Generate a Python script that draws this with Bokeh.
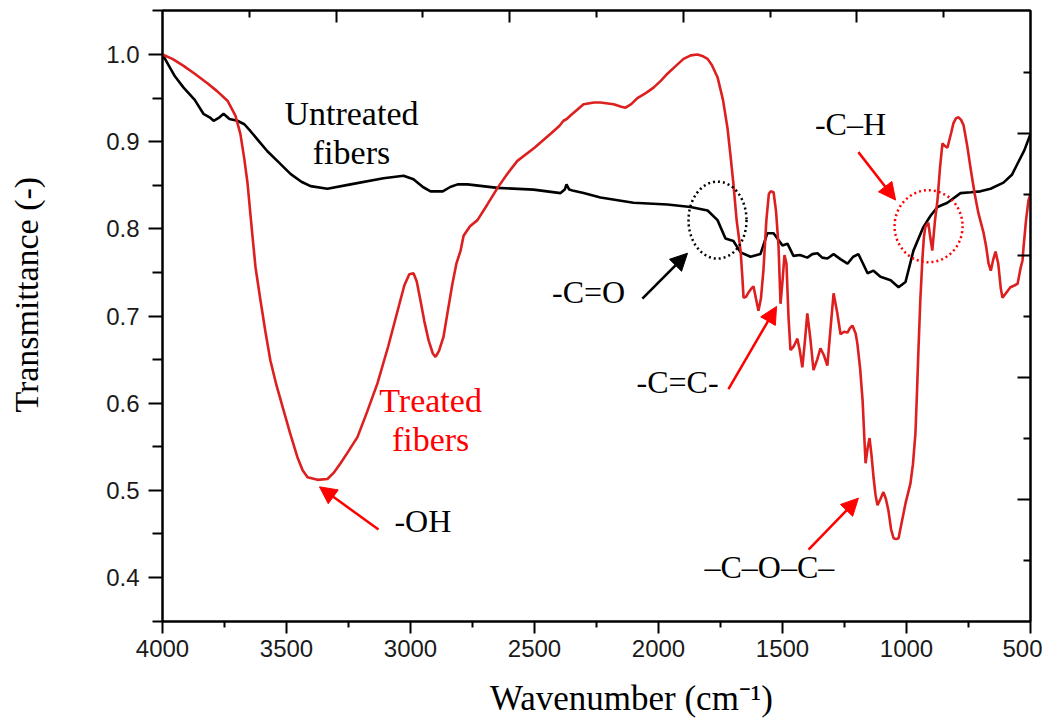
from bokeh.plotting import figure
from bokeh.models import (Range1d, LinearAxis, FixedTicker, Label, Arrow,
                          NormalHead, NumeralTickFormatter)
from bokeh.embed import file_html
from bokeh.resources import INLINE

# ---------------- data ----------------
untreated_wn = [4000, 3950, 3915, 3870, 3835, 3810, 3794, 3770, 3754, 3730, 3698, 3670,
                3645, 3610, 3577, 3530, 3484, 3440, 3403, 3335, 3242, 3109, 3028, 2988,
                2950, 2919, 2870, 2840, 2810, 2770, 2649, 2504, 2395, 2378, 2371, 2360,
                2347, 2302, 2234, 2101, 1964, 1871, 1802, 1762, 1730, 1698, 1669, 1629,
                1589, 1561, 1536, 1500, 1480, 1456, 1430, 1400, 1380, 1359, 1340, 1319,
                1294, 1265, 1238, 1215, 1194, 1175, 1157, 1133, 1105, 1064, 1032, 1004,
                972, 932, 903, 875, 835, 782, 740, 702, 661, 609, 575, 552, 525, 500]
untreated_t = [1.000, 0.975, 0.962, 0.948, 0.932, 0.928, 0.924, 0.928, 0.932, 0.926, 0.924, 0.920,
               0.912, 0.900, 0.889, 0.876, 0.863, 0.854, 0.849, 0.846, 0.851, 0.858, 0.861, 0.857,
               0.848, 0.843, 0.843, 0.848, 0.851, 0.851, 0.847, 0.845, 0.841, 0.845, 0.851, 0.845,
               0.844, 0.841, 0.836, 0.830, 0.828, 0.825, 0.821, 0.810, 0.789, 0.786, 0.773, 0.768,
               0.771, 0.795, 0.795, 0.781, 0.783, 0.769, 0.770, 0.767, 0.771, 0.772, 0.767, 0.766,
               0.771, 0.765, 0.760, 0.768, 0.771, 0.760, 0.749, 0.752, 0.745, 0.741, 0.733, 0.739,
               0.775, 0.802, 0.815, 0.825, 0.830, 0.841, 0.842, 0.843, 0.846, 0.853, 0.862, 0.875,
               0.890, 0.909]

treated_wn = [4000, 3960, 3915, 3870, 3819, 3780, 3738, 3706, 3686, 3670, 3657, 3640, 3625,
              3605, 3585, 3565, 3540, 3512, 3485, 3456, 3435, 3415, 3375, 3335, 3310, 3282,
              3250, 3214, 3175, 3133, 3090, 3052, 3025, 3005, 2988, 2975, 2960, 2945, 2927,
              2910, 2899, 2885, 2867, 2850, 2831, 2815, 2798, 2786, 2760, 2730, 2690, 2649,
              2610, 2569, 2500, 2435, 2400, 2383, 2370, 2355, 2302, 2260, 2234, 2181, 2150,
              2133, 2110, 2085, 2050, 2020, 1990, 1964, 1930, 1899, 1870, 1843, 1820, 1802,
              1785, 1762, 1740, 1722, 1710, 1698, 1685, 1669, 1662, 1657, 1647, 1637, 1627,
              1617, 1607, 1597, 1587, 1577, 1565, 1555, 1548, 1536, 1526, 1516, 1508, 1500,
              1492, 1484, 1476, 1468, 1455, 1440, 1430, 1420, 1410, 1400, 1388, 1375, 1360,
              1347, 1333, 1319, 1305, 1294, 1280, 1266, 1252, 1238, 1228, 1218, 1205, 1198,
              1187, 1177, 1170, 1165, 1157, 1149, 1141, 1133, 1125, 1117, 1105, 1093, 1083,
              1073, 1062, 1052, 1042, 1032, 1018, 1004, 984, 974, 964, 958, 952, 944, 936,
              930, 924, 912, 904, 896, 885, 875, 865, 855, 845, 835, 820, 811, 800, 790, 780,
              770, 755, 742, 725, 710, 689, 679, 669, 660, 650, 641, 630, 620, 613, 597, 581,
              565, 552, 540, 532, 528, 518, 508, 500]
treated_t = [1.000, 0.995, 0.987, 0.978, 0.967, 0.958, 0.947, 0.930, 0.909, 0.880, 0.852, 0.800, 0.756,
             0.718, 0.682, 0.649, 0.620, 0.592, 0.565, 0.538, 0.523, 0.515, 0.512, 0.513, 0.520, 0.531,
             0.545, 0.561, 0.590, 0.623, 0.665, 0.706, 0.735, 0.748, 0.749, 0.740, 0.718, 0.695, 0.672,
             0.657, 0.653, 0.660, 0.676, 0.705, 0.737, 0.760, 0.775, 0.792, 0.803, 0.810, 0.828, 0.847,
             0.863, 0.878, 0.893, 0.909, 0.918, 0.924, 0.926, 0.930, 0.943, 0.945, 0.945, 0.943, 0.940,
             0.939, 0.943, 0.950, 0.956, 0.962, 0.970, 0.978, 0.987, 0.995, 0.999, 1.000, 0.998, 0.995,
             0.988, 0.974, 0.948, 0.916, 0.885, 0.852, 0.810, 0.775, 0.745, 0.721, 0.722, 0.727, 0.731,
             0.734, 0.720, 0.706, 0.720, 0.752, 0.810, 0.840, 0.843, 0.842, 0.820, 0.780, 0.714, 0.740,
             0.770, 0.760, 0.700, 0.661, 0.665, 0.674, 0.660, 0.641, 0.670, 0.703, 0.675, 0.638, 0.650,
             0.663, 0.655, 0.643, 0.690, 0.726, 0.705, 0.679, 0.682, 0.681, 0.686, 0.689, 0.680, 0.668,
             0.640, 0.603, 0.560, 0.531, 0.548, 0.560, 0.540, 0.515, 0.495, 0.483, 0.490, 0.498, 0.490,
             0.477, 0.455, 0.445, 0.444, 0.445, 0.465, 0.485, 0.508, 0.530, 0.565, 0.610, 0.660, 0.720, 0.765,
             0.790, 0.802, 0.807, 0.790, 0.775, 0.810, 0.833, 0.870, 0.898, 0.895, 0.893, 0.910, 0.921, 0.927, 0.928, 0.925,
             0.919, 0.895, 0.870, 0.840, 0.818, 0.795, 0.780, 0.760, 0.752, 0.765, 0.774, 0.760, 0.732, 0.721, 0.727, 0.733,
             0.735, 0.737, 0.755, 0.764, 0.779, 0.810, 0.833, 0.840]

x_major_ticks = [4000, 3500, 3000, 2500, 2000, 1500, 1000, 500]
x_minor_ticks = [3750, 3250, 2750, 2250, 1750, 1250, 750]
y_major_ticks = [0.4, 0.5, 0.6, 0.7, 0.8, 0.9, 1.0]
y_minor_ticks = [0.35, 0.45, 0.55, 0.65, 0.75, 0.85, 0.95, 1.05]

x_title = "Wavenumber (cm\u207b\u00b9)"
y_title = "Transmittance (-)"

# annotations: (text, wavenumber, transmittance at text centre)
fiber_labels = [("Untreated", 3238, 0.932, "black"), ("fibers", 3238, 0.888, "black"),
                ("Treated", 2919, 0.603, "#ff0000"), ("fibers", 2919, 0.558, "#ff0000")]
group_labels = [("-OH", 2950, 0.465), ("-C=O", 2282, 0.727), ("-C=C-", 1923, 0.624),
                ("\u2013C\u2013O\u2013C\u2013", 1553, 0.4115), ("-C\u2013H", 1226, 0.920)]
arrows = [  # (x_start, y_start, x_end, y_end, colour)
    (3129, 0.455, 3367, 0.504, "#ff0000"),
    (2065, 0.720, 1883, 0.772, "black"),
    (1718, 0.616, 1524, 0.711, "#ff0000"),
    (1395, 0.432, 1194, 0.491, "#ff0000"),
    (1194, 0.888, 1044, 0.833, "#ff0000"),
]

# ---------------- figure ----------------
p = figure(frame_width=868, frame_height=611, x_range=Range1d(4000, 500),
           y_range=Range1d(0.3495, 1.0505),
           output_backend="svg", toolbar_location=None,
           min_border_left=162, min_border_right=12, min_border_top=10, min_border_bottom=88)
p.grid.visible = False
p.outline_line_color = "black"
p.outline_line_width = 2
p.background_fill_color = "white"
p.border_fill_color = "white"

tick_font = "Liberation Sans"
serif = "Liberation Serif"
nbsp = "\u00a0"

xa = p.xaxis[0]
xa.ticker = FixedTicker(ticks=x_major_ticks, minor_ticks=x_minor_ticks)
xa.major_tick_out = 12
xa.major_tick_in = 0
xa.minor_tick_out = 6
xa.minor_tick_in = 0
xa.major_tick_line_width = 2
xa.minor_tick_line_width = 2
xa.axis_line_width = 2
xa.major_label_text_font = tick_font
xa.major_label_text_font_size = "24px"
xa.major_label_text_color = "#1a1a1a"
xa.major_label_standoff = 6
xa.axis_label = nbsp * 8 + x_title
xa.axis_label_text_font = serif
xa.axis_label_text_font_size = "35px"
xa.axis_label_text_font_style = "normal"
xa.axis_label_text_color = "black"
xa.axis_label_standoff = 19

ya = p.yaxis[0]
ya.ticker = FixedTicker(ticks=y_major_ticks, minor_ticks=y_minor_ticks)
ya.formatter = NumeralTickFormatter(format="0.0")
ya.major_tick_out = 14
ya.major_tick_in = 0
ya.minor_tick_out = 10
ya.minor_tick_in = 0
ya.major_tick_line_width = 2
ya.minor_tick_line_width = 2
ya.axis_line_width = 2
ya.major_label_text_font = tick_font
ya.major_label_text_font_size = "24px"
ya.major_label_text_color = "#1a1a1a"
ya.major_label_standoff = 9
ya.axis_label = nbsp * 5 + y_title
ya.axis_label_text_font = serif
ya.axis_label_text_font_size = "34px"
ya.axis_label_text_font_style = "normal"
ya.axis_label_text_color = "black"
ya.axis_label_standoff = 58

# mirror axes (ticks only) on top and right
p.extra_x_ranges = {"top": Range1d(0, 10)}
p.extra_y_ranges = {"right": Range1d(0, 10.016)}
top = LinearAxis(x_range_name="top",
                 ticker=FixedTicker(ticks=[2, 4, 6, 8], minor_ticks=[1, 3, 5, 7, 9]),
                 major_tick_in=12, major_tick_out=0, minor_tick_in=7, minor_tick_out=0,
                 major_tick_line_width=2, minor_tick_line_width=2, axis_line_width=2,
                 major_label_overrides={2: "", 4: "", 6: "", 8: ""},
                 major_label_text_font_size="0px", major_label_standoff=0)
right = LinearAxis(y_range_name="right",
                   ticker=FixedTicker(ticks=[2, 4, 6, 8], minor_ticks=[1, 3, 5, 7, 9]),
                   major_tick_in=13, major_tick_out=0, minor_tick_in=7, minor_tick_out=0,
                   major_tick_line_width=2, minor_tick_line_width=2, axis_line_width=2,
                   major_label_overrides={2: "", 4: "", 6: "", 8: ""},
                   major_label_text_font_size="0px", major_label_standoff=0)
p.add_layout(top, "above")
p.add_layout(right, "right")

# ---------------- curves ----------------
p.line(untreated_wn, untreated_t, line_color="black", line_width=2.6)
p.line(treated_wn, treated_t, line_color="#dd1f1f", line_width=2.6)

# dotted circles
p.ellipse(x=[1762], y=[0.810], width=[58], height=[77], width_units="screen",
          height_units="screen", fill_color=None, line_color="black", line_width=2.5,
          line_dash="2 3")
p.ellipse(x=[911], y=[0.803], width=[68], height=[72], width_units="screen",
          height_units="screen", fill_color=None, line_color="#ff0000", line_width=2.5,
          line_dash="2 3")

# arrows
for xs, ys, xe, ye, c in arrows:
    p.add_layout(Arrow(end=NormalHead(size=17, fill_color=c, line_color=c, line_width=1),
                       x_start=xs, y_start=ys, x_end=xe, y_end=ye,
                       line_color=c, line_width=2.5))

# texts
def lab(x, y, t, size="32px", color="black"):
    p.add_layout(Label(x=x, y=y, text=t, text_font=serif, text_font_size=size,
                       text_color=color, text_align="center", text_baseline="middle"))

for t, x, y, c in fiber_labels:
    lab(x, y, t, "34px", c)
for t, x, y in group_labels:
    lab(x, y, t, "32px")

open("out.html", "w").write(file_html(p, INLINE))
